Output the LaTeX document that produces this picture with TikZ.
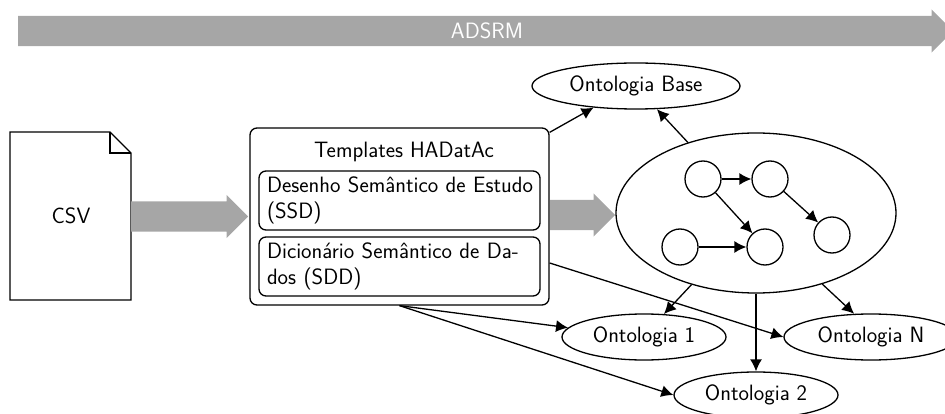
\documentclass[tikz,border=0pt]{standalone}
\usepackage{fontspec}
\usepackage{tikz}
\usetikzlibrary{positioning, arrows.meta, shapes.geometric, shapes.arrows}

\tikzset{
    fatarrow/.style={single arrow, anchor=tail, fill=gray!70!white, draw=none, inner sep=0pt, text height=30pt, text depth=0pt, single arrow head extend=6.5pt, minimum width=43pt},
    onto/.style={ellipse, draw, line width=1.3pt, inner sep=0pt, minimum width=164pt, minimum height=46pt},
    dot/.style={circle, draw, line width=1.3pt, inner sep=0pt, minimum size=36pt},
    tmpl/.style={draw, rounded corners=7pt, line width=1.3pt, inner xsep=8pt, inner ysep=0pt, text width=265pt, minimum height=59pt, align=left, font=\tmplfont},
    link/.style={-{Latex[length=12pt,width=12pt]}, line width=1.3pt}
}
\newcommand{\tmplfont}{\sffamily\fontsize{22.2}{25.5}\selectfont}

\begin{document}
\begin{tikzpicture}[x=1pt, y=-1pt, font=\tmplfont]
    \useasboundingbox (0,0) rectangle (945,414);
    \node[fatarrow, minimum height=935pt] (band) at (18,31) {};
    \node[text=white] (bandlabel) at (487,31) {ADSRM};

    \draw[line width=1.3pt] (10,132) -- (110,132) -- (131,153) -- (131,300) -- (10,300) -- cycle;
    \draw[line width=1.3pt] (110,132) -- (110,153) -- (131,153);
    \node (csv) at (71,216) {CSV};

    \node[fatarrow, minimum height=117pt] (flow1) at (131,216.5) {};
    \node[draw, rounded corners=7pt, line width=1.3pt, minimum width=299pt, minimum height=177pt] (templates) at (399.5,216.5) {};
    \node (title) at (404,152) {Templates HADatAc};
    \node[tmpl] (ssd) at (399.5,200.5) {\mbox{Desenho Semântico de Estudo}\\(SSD)};
    \node[tmpl] (sdd) at (399.5,266.5) {\mbox{Dicionário Semântico de Da-}\\dos (SDD)};
    \node[fatarrow, minimum height=65pt] (flow2) at (550,215) {};

    \node[ellipse, draw, line width=1.3pt, minimum width=280pt, minimum height=160pt, inner sep=0pt] (graph) at (756,213) {};
    \node[dot] (c1) at (703,179) {};
    \node[dot] (c2) at (770,179) {};
    \node[dot] (c3) at (680,247) {};
    \node[dot] (c4) at (765,247) {};
    \node[dot] (c5) at (832,235) {};
    \draw[link] (c1) -- (c2);
    \draw[link] (c1) -- (c4);
    \draw[link] (c2) -- (c5);
    \draw[link] (c3) -- (c4);

    \node[onto, minimum width=208pt] (base) at (636,86) {Ontologia Base};
    \node[onto] (onto1) at (644,337) {Ontologia 1};
    \node[onto] (onto2) at (756,395) {Ontologia 2};
    \node[onto, minimum width=174pt] (ontoN) at (871,337) {Ontologia N};

    \coordinate (tcorner) at ([shift={(0,5)}]templates.north east);
    \coordinate (tside) at ([shift={(0,46.5)}]templates.east);
    \draw[link] (tcorner) -- (base.207);
    \draw[link] (graph.134) -- (base.-48);
    \draw[link] (graph.-132) -- (onto1.49);
    \draw[link] (graph.-47) -- (ontoN.126);
    \draw[link] (graph.south) -- (onto2.north);
    \draw[link] (tside) -- (ontoN.west);
    \draw[link] (templates.south) -- (onto1.173);
    \draw[link] (templates.south) -- (onto2.west);
\end{tikzpicture}
\end{document}
